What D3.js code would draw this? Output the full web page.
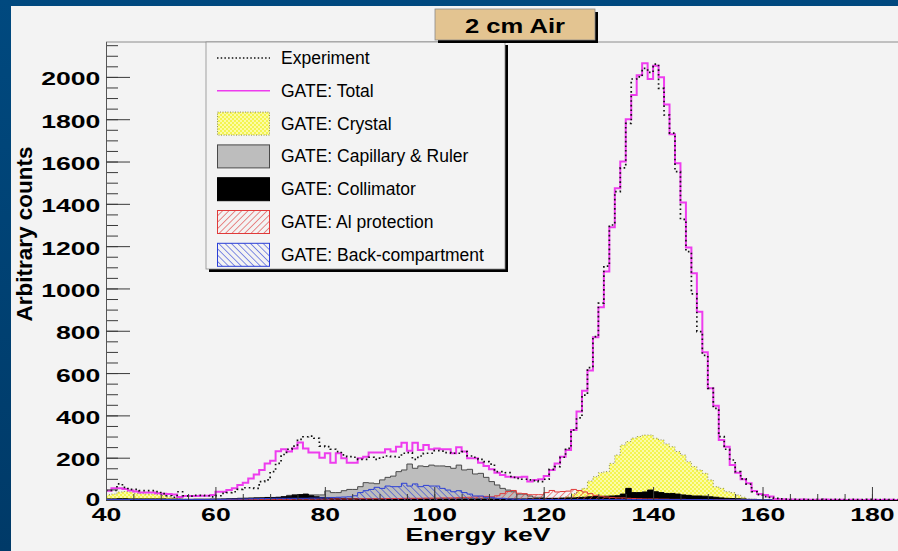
<!DOCTYPE html>
<html>
<head>
<meta charset="utf-8">
<script src="https://cdn.jsdelivr.net/npm/d3@7/dist/d3.min.js"></script>
<style>
  html, body { margin: 0; padding: 0; background: #00477c; }
  svg { display: block; }
</style>
</head>
<body>
<svg id="chart" width="898" height="551"></svg>
<script>
// 1 keV bins, first bin starts at 40 keV
const binStart = 40;

const experiment = [
  45, 45, 76, 60, 50, 50, 44, 44, 44, 40,
  30, 20, 13, 39, 20, 18, 22, 22, 20, 15,
  20, 31, 35, 39, 50, 58, 58, 55, 87, 95,
  134, 173, 215, 240, 255, 287, 299, 302, 292, 255,
  252, 240, 229, 213, 205, 202, 192, 192, 202, 192,
  202, 208, 205, 202, 221, 224, 192, 208, 221, 221,
  233, 231, 224, 221, 221, 229, 208, 202, 192, 181,
  170, 134, 134, 129, 107, 102, 98, 95, 92, 87,
  98, 145, 158, 202, 244, 331, 388, 496, 626, 772,
  931, 1106, 1300, 1458, 1570, 1780, 1990, 2000, 2040, 2021,
  2060, 1946, 1820, 1734, 1552, 1327, 1174, 974, 796, 684,
  528, 433, 300, 240, 189, 134, 100, 75, 39, 25,
  16, 12, 8, 5, 4, 3, 2, 3, 2, 2,
  3, 2, 2, 3, 2, 2, 3, 2, 2, 3,
  2, 2, 3, 2, 2, 3
];

const gateTotal = [
  44, 55, 55, 52, 45, 40, 36, 35, 35, 32,
  30, 28, 26, 14, 19, 19, 19, 20, 20, 24,
  39, 39, 47, 55, 71, 82, 102, 121, 142, 173,
  186, 230, 240, 229, 244, 272, 244, 225, 225, 200,
  221, 176, 221, 197, 176, 176, 197, 205, 224, 224,
  224, 240, 229, 252, 271, 233, 271, 236, 260, 240,
  244, 240, 240, 221, 249, 229, 197, 197, 176, 161,
  145, 129, 118, 110, 107, 107, 110, 87, 95, 98,
  113, 142, 173, 205, 236, 331, 418, 517, 612, 769,
  911, 1080, 1289, 1474, 1600, 1800, 1915, 2008, 2065, 1990,
  2053, 1998, 1869, 1729, 1592, 1406, 1193, 1072, 890, 698,
  528, 446, 284, 252, 165, 129, 98, 79, 42, 28,
  24, 16, 5, 3, 2, 2, 1, 2, 1, 1,
  1, 2, 1, 1, 1, 0, 1, 1, 0, 1,
  1, 0, 1, 1, 0, 1
];

const gateCrystal = [
  25, 28, 38, 40, 38, 32, 30, 28, 28, 26,
  22, 15, 10, 5, 3, 2, 1, 1, 0, 0,
  0, 0, 0, 0, 0, 0, 0, 0, 0, 0,
  0, 0, 0, 0, 0, 0, 0, 0, 0, 0,
  0, 0, 0, 0, 0, 0, 0, 0, 0, 0,
  0, 0, 0, 0, 0, 0, 0, 0, 0, 0,
  0, 0, 0, 0, 0, 0, 0, 0, 0, 0,
  0, 0, 0, 0, 0, 0, 0, 0, 1, 1,
  2, 4, 6, 10, 15, 30, 45, 55, 90, 110,
  129, 134, 173, 213, 260, 276, 293, 300, 307, 307,
  292, 284, 265, 252, 229, 213, 181, 158, 142, 126,
  95, 63, 55, 39, 35, 24, 13, 5, 3, 2,
  1, 1, 0, 0, 0, 0, 0, 0, 0, 0,
  0, 0, 0, 0, 0, 0, 0, 0, 0, 0,
  0, 0, 0, 0, 0, 0
];

const gateCapillary = [
  3, 3, 3, 3, 3, 3, 3, 3, 3, 3,
  3, 3, 3, 3, 3, 3, 4, 4, 4, 5,
  5, 5, 6, 6, 7, 8, 8, 9, 10, 10,
  10, 12, 15, 22, 25, 26, 24, 24, 24, 24,
  43, 35, 35, 44, 50, 50, 63, 82, 80, 77,
  95, 107, 113, 134, 142, 170, 150, 161, 158, 165,
  161, 161, 158, 150, 165, 142, 145, 123, 126, 107,
  87, 71, 55, 47, 39, 28, 28, 19, 13, 13,
  8, 6, 4, 3, 2, 1, 1, 1, 0, 0,
  0, 0, 0, 0, 0, 0, 0, 0, 0, 0,
  0, 0, 0, 0, 0, 0, 0, 0, 0, 0,
  0, 0, 0, 0, 0, 0, 0, 0, 0, 0,
  0, 0, 0, 0, 0, 0, 0, 0, 0, 0,
  0, 0, 0, 0, 0, 0, 0, 0, 0, 0,
  0, 0, 0, 0, 0, 0
];

const gateCollimator = [
  5, 5, 6, 6, 5, 5, 5, 5, 5, 5,
  5, 4, 4, 4, 3, 3, 3, 3, 3, 3,
  3, 4, 5, 6, 8, 8, 9, 10, 10, 12,
  12, 13, 15, 18, 22, 25, 28, 20, 15, 12,
  10, 8, 8, 7, 6, 6, 5, 5, 5, 5,
  5, 5, 5, 5, 5, 5, 5, 5, 5, 5,
  5, 5, 5, 5, 5, 5, 5, 5, 5, 5,
  5, 5, 5, 5, 5, 5, 5, 6, 6, 7,
  7, 8, 8, 9, 10, 10, 12, 13, 15, 16,
  17, 18, 19, 20, 28, 55, 35, 35, 38, 47,
  39, 35, 31, 31, 28, 24, 22, 19, 19, 18,
  15, 13, 10, 8, 7, 6, 5, 3, 3, 2,
  1, 1, 0, 0, 0, 0, 0, 0, 0, 0,
  0, 0, 0, 0, 0, 0, 0, 0, 0, 0,
  0, 0, 0, 0, 0, 0
];

const gateAlProtection = [
  2, 2, 2, 2, 2, 2, 2, 2, 2, 2,
  2, 2, 2, 2, 2, 2, 2, 2, 2, 2,
  2, 2, 2, 3, 3, 3, 3, 3, 3, 3,
  3, 3, 3, 3, 4, 4, 4, 4, 4, 4,
  4, 5, 5, 5, 5, 5, 6, 6, 6, 6,
  6, 7, 7, 7, 8, 8, 8, 8, 9, 9,
  9, 10, 10, 10, 11, 12, 13, 14, 15, 17,
  15, 20, 30, 40, 45, 32, 30, 25, 25, 25,
  35, 45, 38, 40, 42, 50, 45, 38, 30, 22,
  18, 14, 12, 10, 10, 8, 7, 6, 5, 5,
  5, 4, 4, 3, 3, 3, 2, 2, 2, 1,
  1, 1, 1, 1, 1, 1, 0, 0, 0, 0,
  0, 0, 0, 0, 0, 0, 0, 0, 0, 0,
  0, 0, 0, 0, 0, 0, 0, 0, 0, 0,
  0, 0, 0, 0, 0, 0
];

const gateBackCompartment = [
  2, 2, 2, 2, 2, 2, 2, 2, 2, 2,
  2, 2, 2, 2, 2, 2, 2, 2, 2, 3,
  3, 3, 4, 4, 5, 5, 6, 6, 7, 7,
  8, 8, 8, 8, 8, 8, 8, 9, 9, 10,
  10, 12, 13, 14, 15, 20, 35, 44, 50, 60,
  55, 66, 63, 63, 79, 66, 76, 63, 69, 66,
  66, 55, 47, 39, 44, 35, 28, 19, 19, 13,
  13, 8, 8, 5, 4, 3, 3, 2, 2, 2,
  2, 2, 2, 2, 2, 2, 2, 2, 2, 2,
  2, 2, 2, 2, 2, 2, 2, 2, 2, 2,
  2, 2, 2, 2, 2, 2, 2, 2, 2, 2,
  2, 1, 1, 1, 1, 1, 1, 1, 1, 1,
  1, 1, 1, 1, 1, 1, 0, 0, 0, 0,
  0, 0, 0, 0, 0, 0, 0, 0, 0, 0,
  0, 0, 0, 0, 0, 0
];

const xTickLabels = [40, 60, 80, 100, 120, 140, 160, 180];
const yTickLabels = [0, 200, 400, 600, 800, 1000, 1200, 1400, 1600, 1800, 2000];
const legendLabels = ['Experiment', 'GATE: Total', 'GATE: Crystal', 'GATE: Capillary & Ruler',
                      'GATE: Collimator', 'GATE: Al protection', 'GATE: Back-compartment'];
const chartTitle = '2 cm Air';
const xTitle = 'Energy keV';
const yTitle = 'Arbitrary counts';

const font = "'Liberation Sans', Arial, Helvetica, sans-serif";
const magenta = '#ee3cee';

const svg = d3.select('#chart');
const defs = svg.append('defs');

// outer blue background + grey pad
const grad = defs.append('linearGradient')
  .attr('id', 'bgGrad')
  .attr('x1', 0).attr('y1', 0).attr('x2', 0).attr('y2', 1);
grad.append('stop').attr('offset', '0%').attr('stop-color', '#00497f');
grad.append('stop').attr('offset', '100%').attr('stop-color', '#003a68');
svg.append('rect')
  .attr('width', 898).attr('height', 551)
  .attr('fill', 'url(#bgGrad)');
svg.append('rect')
  .attr('x', 11).attr('y', 6)
  .attr('width', 898).attr('height', 560)
  .attr('fill', '#f3f3f3');

// fill patterns
const yellow = defs.append('pattern')
  .attr('id', 'crystalFill')
  .attr('width', 4).attr('height', 4)
  .attr('patternUnits', 'userSpaceOnUse');
yellow.append('rect').attr('width', 4).attr('height', 4).attr('fill', '#f4f450');
yellow.append('rect').attr('width', 2).attr('height', 2).attr('fill', '#fbfba8');
yellow.append('rect').attr('x', 2).attr('y', 2).attr('width', 2).attr('height', 2).attr('fill', '#fbfba8');

function hatch(id, angle, color) {
  const p = defs.append('pattern')
    .attr('id', id)
    .attr('width', 4.5).attr('height', 4.5)
    .attr('patternUnits', 'userSpaceOnUse')
    .attr('patternTransform', `rotate(${angle})`);
  p.append('line')
    .attr('x1', 0).attr('y1', 0).attr('x2', 0).attr('y2', 4.5)
    .attr('stroke', color)
    .attr('stroke-width', 1.2);
}
hatch('alHatch', 45, '#e04040');
hatch('backHatch', -45, '#3346d8');

const x = d3.scaleLinear()
            .domain([binStart, binStart + 146])
            .range([106, 106 + 146 * 5.471]);
const y = d3.scaleLinear()
            .domain([0, 2165])
            .range([500, 42]);

defs.append('clipPath')
  .attr('id', 'plotClip')
  .append('rect')
    .attr('x', 106).attr('y', 40)
    .attr('width', 800).attr('height', 461);

function toBins(vals) {
  const pts = vals.map((v, i) => ({ e: binStart + i, v: v }));
  pts.push({ e: binStart + vals.length, v: vals[vals.length - 1] });
  return pts;
}
const area = d3.area()
  .x(d => x(d.e))
  .y0(y(0))
  .y1(d => y(d.v))
  .curve(d3.curveStepAfter);
const line = d3.line()
  .x(d => x(d.e))
  .y(d => y(d.v))
  .curve(d3.curveStepAfter);

const plot = svg.append('g').attr('clip-path', 'url(#plotClip)');

// components (drawn overlaid, not stacked)
const layers = [
  { vals: gateCrystal, fill: 'url(#crystalFill)', stroke: '#8c8c55', dash: '1,2' },
  { vals: gateCapillary, fill: '#bdbdbd', stroke: '#4a4a4a', dash: null },
  { vals: gateCollimator, fill: '#000', stroke: '#000', dash: null },
  { vals: gateAlProtection, fill: 'url(#alHatch)', stroke: '#e03a3a', dash: null },
  { vals: gateBackCompartment, fill: 'url(#backHatch)', stroke: '#2b3fd6', dash: null }
];
layers.forEach(l => {
  const d = toBins(l.vals);
  plot.append('path')
    .attr('d', area(d))
    .attr('fill', l.fill);
  plot.append('path')
    .attr('d', line(d))
    .attr('fill', 'none')
    .attr('stroke', l.stroke)
    .attr('stroke-width', 1)
    .attr('stroke-dasharray', l.dash);
});

plot.append('path')
  .attr('d', line(toBins(gateTotal)))
  .attr('fill', 'none')
  .attr('stroke', magenta)
  .attr('stroke-width', 2);
plot.append('path')
  .attr('d', line(toBins(experiment)))
  .attr('fill', 'none')
  .attr('stroke', '#111')
  .attr('stroke-width', 1.7)
  .attr('stroke-dasharray', '1.6,3');

// frame top
svg.append('line')
  .attr('x1', 106).attr('x2', 898)
  .attr('y1', 42).attr('y2', 42)
  .attr('stroke', '#8c8c8c');

// axes, ROOT style ticks pointing inside
const xMinor = d3.axisBottom(x)
  .tickValues(d3.range(40, 186, 5))
  .tickSize(-6).tickSizeOuter(0).tickFormat('');
const xMajor = d3.axisBottom(x)
  .tickValues(xTickLabels)
  .tickSize(-13).tickSizeOuter(0).tickPadding(8)
  .tickFormat(d3.format('d'));
const yMinor = d3.axisLeft(y)
  .tickValues(d3.range(0, 2165, 50))
  .tickSize(-12).tickSizeOuter(0).tickFormat('');
const yMajor = d3.axisLeft(y)
  .tickValues(yTickLabels)
  .tickSize(-24).tickSizeOuter(0).tickPadding(4)
  .tickFormat(d3.format('d'));

svg.append('g').attr('transform', 'translate(0,500)').call(xMinor);
const gx = svg.append('g').attr('transform', 'translate(0,500)').call(xMajor);
svg.append('g').attr('transform', 'translate(106,0)').call(yMinor);
const gy = svg.append('g').attr('transform', 'translate(106,0)').call(yMajor);

svg.selectAll('.tick line').attr('stroke', '#3a3a3a');
gy.select('.domain').attr('stroke', '#555');
gx.select('.domain').attr('stroke', '#000');
[gx, gy].forEach(g => {
  g.attr('font-family', font).attr('font-size', 19).attr('font-weight', 'bold');
  g.selectAll('text')
    .attr('fill', '#000')
    .attr('transform', 'scale(1.4,1)');
});
// "0" sits just on top of the "40" label, as in the original
gy.selectAll('text').attr('dy', d => d === 0 ? '0.3em' : '0.42em');

// axis titles
svg.append('text')
  .attr('transform', 'translate(478,541) scale(1.4,1)')
  .attr('text-anchor', 'middle')
  .attr('font-family', font).attr('font-size', 19).attr('font-weight', 'bold')
  .text(xTitle);
svg.append('text')
  .attr('transform', 'translate(32,234) rotate(-90)')
  .attr('text-anchor', 'middle')
  .attr('font-family', font).attr('font-size', 22.5).attr('font-weight', 'bold')
  .text(yTitle);

// legend
const legend = svg.append('g');
legend.append('rect')
  .attr('x', 209).attr('y', 45).attr('width', 299).attr('height', 227)
  .attr('fill', '#000');
legend.append('rect')
  .attr('x', 206).attr('y', 42).attr('width', 299).attr('height', 227)
  .attr('fill', '#f3f3f3')
  .attr('stroke', '#8c8c8c')
  .attr('stroke-width', 0.8);

const legendStyles = [
  { kind: 'line', stroke: '#111', width: 1.5, dash: '1.5,2.2' },
  { kind: 'line', stroke: magenta, width: 1.5, dash: null },
  { kind: 'box', fill: 'url(#crystalFill)', stroke: '#8c8c55', dash: '1,1.5' },
  { kind: 'box', fill: '#bdbdbd', stroke: '#4a4a4a', dash: null },
  { kind: 'box', fill: '#000', stroke: '#000', dash: null },
  { kind: 'box', fill: 'url(#alHatch)', stroke: '#e03a3a', dash: null },
  { kind: 'box', fill: 'url(#backHatch)', stroke: '#2b3fd6', dash: null }
];

legendLabels.forEach((label, i) => {
  const cy = 58 + i * 32.8;
  const s = legendStyles[i];
  if (s.kind === 'line') {
    legend.append('line')
      .attr('x1', 217).attr('x2', 270)
      .attr('y1', cy).attr('y2', cy)
      .attr('stroke', s.stroke)
      .attr('stroke-width', s.width)
      .attr('stroke-dasharray', s.dash);
  } else {
    legend.append('rect')
      .attr('x', 217.5).attr('y', cy - 11.5)
      .attr('width', 52).attr('height', 23)
      .attr('fill', s.fill)
      .attr('stroke', s.stroke)
      .attr('stroke-dasharray', s.dash);
  }
  legend.append('text')
    .attr('x', 281).attr('y', cy + 6)
    .attr('font-family', font).attr('font-size', 17.5)
    .attr('fill', '#000')
    .text(label);
});

// title box
svg.append('rect')
  .attr('x', 438).attr('y', 12).attr('width', 160).attr('height', 31)
  .attr('fill', '#000');
svg.append('rect')
  .attr('x', 435).attr('y', 9).attr('width', 160).attr('height', 31)
  .attr('fill', '#e3c491')
  .attr('stroke', '#8a8a8a')
  .attr('stroke-width', 0.8);
svg.append('text')
  .attr('transform', 'translate(515,33) scale(1.28,1)')
  .attr('text-anchor', 'middle')
  .attr('font-family', font).attr('font-size', 20).attr('font-weight', 'bold')
  .text(chartTitle);
</script>
</body>
</html>
